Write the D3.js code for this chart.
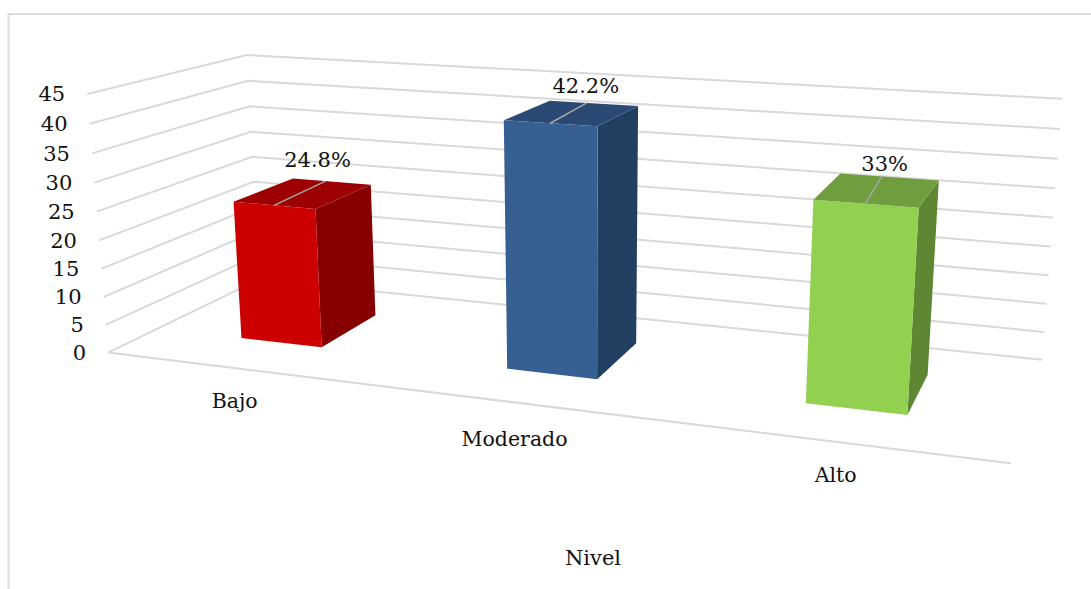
<!DOCTYPE html>
<html>
<head>
<meta charset="utf-8">
<script src="https://cdn.jsdelivr.net/npm/d3@7/dist/d3.min.js"></script>
<style>
  html, body { margin: 0; padding: 0; background: #fff; }
  svg { display: block; }
  text { font-family: "DejaVu Serif", serif; fill: #111; }
</style>
</head>
<body>
<svg id="chart" width="1091" height="589"></svg>
<script>
const categories = ["Bajo", "Moderado", "Alto"];
const values = [24.8, 42.2, 33];
const valueLabels = ["24.8%", "42.2%", "33%"];
const tickValues = [0, 5, 10, 15, 20, 25, 30, 35, 40, 45];
const axisTitle = "Nivel";
const faceColors = ["#cc0000", "#366092", "#92d050"];
const topColors = ["#9c0000", "#2a4a74", "#709d3e"];
const sideColors = ["#860000", "#213f60", "#5f8632"];

const width = 1091, height = 589;
const svg = d3.select("#chart");

// Scales into the 3D box: x across categories, z along the depth, y up the value axis.
const xScale = d3.scaleBand().domain(categories).range([0, 1]).paddingInner(0.686).paddingOuter(0.338);
const yScale = d3.scaleLinear().domain([0, 45]).range([0, 1]);
const zFront = 0.30, zBack = 0.71;

// Where the corners of the box land on the page; [x, z, y] -> [px, py].
const anchors = [
  [[0, 0, 0], [108, 351]],
  [[1, 0, 0], [1011, 464]],
  [[0, 1, 0], [259, 281]],
  [[1, 1, 0], [1042, 359]],
  [[0, 0, 1], [87, 95]],
  [[0, 1, 1], [247, 54]],
  [[1, 1, 1], [1062, 99]]
];

// Pixel nudges for the value and category labels, relative to their projected anchors.
const valueLabelNudge = [[-8, -14], [-1, -10], [3, -6]];
const categoryLabelNudge = [[-1, 40], [-3, 43], [-1, 40]];

// Least-squares solve for the 3x4 projective camera through the anchors.
function solveCamera(pts) {
  const A = [], b = [];
  pts.forEach(([[x, z, y], [u, v]]) => {
    A.push([x, z, y, 1, 0, 0, 0, 0, -u * x, -u * z, -u * y]); b.push(u);
    A.push([0, 0, 0, 0, x, z, y, 1, -v * x, -v * z, -v * y]); b.push(v);
  });
  const n = 11;
  const M = d3.range(n).map(i => d3.range(n + 1).map(j =>
    d3.sum(A, (row, r) => row[i] * (j < n ? row[j] : b[r]))));
  for (let i = 0; i < n; i++) M[i][i] += 1e-9;
  for (let c = 0; c < n; c++) {
    let p = c;
    for (let r = c + 1; r < n; r++) if (Math.abs(M[r][c]) > Math.abs(M[p][c])) p = r;
    [M[c], M[p]] = [M[p], M[c]];
    for (let r = 0; r < n; r++) {
      if (r === c) continue;
      const f = M[r][c] / M[c][c];
      for (let k = c; k <= n; k++) M[r][k] -= f * M[c][k];
    }
  }
  return d3.range(n).map(i => M[i][n] / M[i][i]);
}
const cam = solveCamera(anchors);
function project(x, z, y) {
  const w = cam[8] * x + cam[9] * z + cam[10] * y + 1;
  return [
    (cam[0] * x + cam[1] * z + cam[2] * y + cam[3]) / w,
    (cam[4] * x + cam[5] * z + cam[6] * y + cam[7]) / w
  ];
}
const poly = pts => "M" + pts.map(p => p.join(",")).join("L") + "Z";
const gridColor = "#d9d9d9";

// Chart frame: left and top edges run off the page.
svg.append("path")
  .attr("d", "M8.5,589V14H1091")
  .attr("fill", "none").attr("stroke", "#dcdcdc").attr("stroke-width", 2);

// Gridlines: side wall and back wall at each tick, plus the front edge of the floor.
tickValues.forEach(t => {
  const y = yScale(t);
  svg.append("path")
    .attr("d", d3.line()([project(0, 0, y), project(0, 1, y), project(1, 1, y)]))
    .attr("fill", "none").attr("stroke", gridColor).attr("stroke-width", 2);
});
svg.append("path")
  .attr("d", d3.line()([project(0, 0, 0), project(1, 0, 0)]))
  .attr("fill", "none").attr("stroke", gridColor).attr("stroke-width", 2);

// Value axis labels
tickValues.forEach(t => {
  const p = project(0, 0, yScale(t));
  svg.append("text")
    .attr("x", p[0] - 22).attr("y", p[1] + 7.5)
    .attr("text-anchor", "end").attr("font-size", 21)
    .text(t);
});

// Bars: side and top faces first, the front face over them.
categories.forEach((c, i) => {
  const x0 = xScale(c), x1 = x0 + xScale.bandwidth();
  const h = yScale(values[i]);
  svg.append("path").attr("fill", sideColors[i])
    .attr("d", poly([project(x1, zFront, 0), project(x1, zBack, 0), project(x1, zBack, h), project(x1, zFront, h)]));
  svg.append("path").attr("fill", topColors[i])
    .attr("d", poly([project(x0, zFront, h), project(x1, zFront, h), project(x1, zBack, h), project(x0, zBack, h)]));
  svg.append("path").attr("fill", faceColors[i])
    .attr("d", poly([project(x0, zFront, 0), project(x1, zFront, 0), project(x1, zFront, h), project(x0, zFront, h)]));

  // Leader across the top face up to the value label
  const xm = (x0 + x1) / 2;
  const from = project(xm, zFront, h), to = project(xm - 0.008, zBack, h);
  svg.append("line")
    .attr("x1", from[0]).attr("y1", from[1]).attr("x2", to[0]).attr("y2", to[1])
    .attr("stroke", "#a6a6a6").attr("stroke-width", 1.5);
  svg.append("text")
    .attr("x", to[0] + valueLabelNudge[i][0]).attr("y", to[1] + valueLabelNudge[i][1])
    .attr("text-anchor", "middle").attr("font-size", 21)
    .text(valueLabels[i]);

  // Category label under the bar
  const base = project(xm, 0, 0);
  svg.append("text")
    .attr("x", base[0] + categoryLabelNudge[i][0]).attr("y", base[1] + categoryLabelNudge[i][1])
    .attr("text-anchor", "middle").attr("font-size", 20.5)
    .text(c);
});

// Axis title
svg.append("text")
  .attr("x", 593).attr("y", 565)
  .attr("text-anchor", "middle").attr("font-size", 21)
  .text(axisTitle);
</script>
</body>
</html>
